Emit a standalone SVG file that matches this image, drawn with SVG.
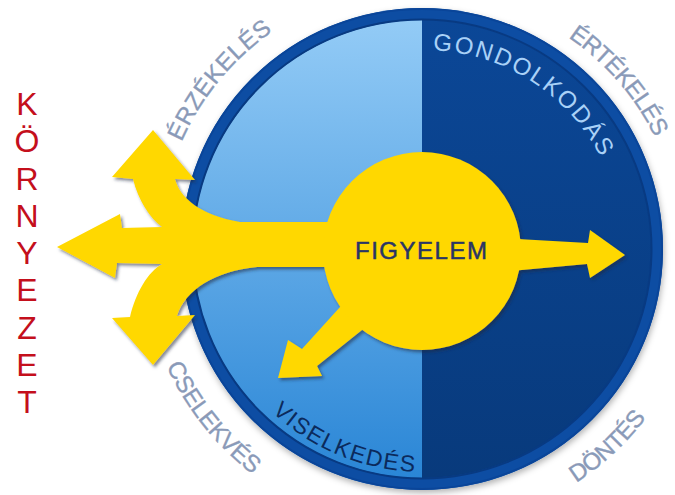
<svg xmlns="http://www.w3.org/2000/svg" width="675" height="495" viewBox="0 0 675 495">
<defs>
<style>
.out{font-family:"Liberation Sans",Arial,sans-serif;font-size:24px;fill:#8a9ab8;stroke:#8a9ab8;stroke-width:0.35px;}
.in1{font-family:"Liberation Sans",Arial,sans-serif;font-size:24px;fill:#a9d1f7;}
.in2{font-family:"Liberation Sans",Arial,sans-serif;font-size:23px;fill:#0b2a5c;}
.env{font-family:"Liberation Sans",Arial,sans-serif;font-size:32px;fill:#c40f1c;text-anchor:middle;}
.yel{fill:#ffd800;}
</style>
<linearGradient id="gl" x1="0" y1="0" x2="0" y2="1">
<stop offset="0" stop-color="#93cbf6"/>
<stop offset="1" stop-color="#2a86d6"/>
</linearGradient>
<linearGradient id="gr" x1="0" y1="0" x2="0" y2="1">
<stop offset="0" stop-color="#0b4797"/>
<stop offset="1" stop-color="#083a7c"/>
</linearGradient>
<filter id="sh" x="-10%" y="-10%" width="120%" height="120%">
<feDropShadow dx="2" dy="2.5" stdDeviation="1.5" flood-color="#1a2a40" flood-opacity="0.55"/>
</filter>
<filter id="csh" x="-10%" y="-10%" width="120%" height="120%">
<feDropShadow dx="1" dy="3" stdDeviation="3" flood-color="#000" flood-opacity="0.3"/>
</filter>
<path id="p1" d="M160.2,274.4 A265,265 0 0 1 398.6,-14.8"/>
<path id="p2" d="M442.7,-6.3 A257,257 0 0 1 680.3,267.7"/>
<path id="p3" d="M142.8,217.5 A283,283 0 0 0 392.5,530.2"/>
<path id="p4" d="M413.8,527.8 A279,279 0 0 0 702.8,259.2"/>
<path id="p5" d="M380.9,54.7 A199,199 0 0 1 618.3,205.9"/>
<path id="p6" d="M217.6,333.4 A223,223 0 0 0 508.4,455.4"/>
</defs>
<rect width="675" height="495" fill="#ffffff"/>

<g id="wheel">
<circle cx="422" cy="249" r="241" fill="#0b4ea3" filter="url(#csh)"/>
<path d="M422,20 A229,229 0 0 0 422,478 Z" fill="url(#gl)"/>
<path d="M422,20 A229,229 0 0 1 422,478 Z" fill="url(#gr)"/>
<circle cx="422" cy="249" r="229.5" fill="none" stroke="#083a82" stroke-width="2"/>
<circle cx="422" cy="249" r="240" fill="none" stroke="#0a4599" stroke-width="2"/>
</g>

<g id="inner-labels">
<text class="in1"><textPath href="#p5" startOffset="50%" text-anchor="middle" textLength="208" lengthAdjust="spacing">GONDOLKODÁS</textPath></text>
<text class="in2"><textPath href="#p6" startOffset="50%" text-anchor="middle" textLength="158" lengthAdjust="spacing">VISELKEDÉS</textPath></text>
</g>

<g id="outer-labels">
<text class="out"><textPath href="#p1" startOffset="50%" text-anchor="middle" textLength="145" lengthAdjust="spacing">ÉRZÉKELÉS</textPath></text>
<text class="out"><textPath href="#p2" startOffset="50%" text-anchor="middle" textLength="134" lengthAdjust="spacing">ÉRTÉKELÉS</textPath></text>
<text class="out"><textPath href="#p3" startOffset="50%" text-anchor="middle" textLength="140" lengthAdjust="spacing">CSELEKVÉS</textPath></text>
<text class="out"><textPath href="#p4" startOffset="50%" text-anchor="middle" textLength="96" lengthAdjust="spacing">DÖNTÉS</textPath></text>
</g>

<g id="connectors" filter="url(#sh)">
<path class="yel" d="M57,247 L120,214 L122,228 L162,227 C150,218 138,200 133,179 L112,177 L153,130 L195,180 L175,179 C180,198 200,215 240,222 L340,222 L340,267 L257,267 C215,271 185,290 177,316 L195,315 L153,365 L112,318 L130,317 C136,292 148,272 162,264 L117,263 L115,278 Z"/>
<path class="yel" d="M500,238 L588,243 L590,230 L625,255 L590,278 L587,264 L500,272 Z"/>
<path class="yel" d="M350,296 L302,349 L288,340 L278,378 L322,376 L317,366 L372,322 Z"/>
<circle class="yel" cx="422" cy="251" r="99"/>
</g>

<g id="figyelem">
<text x="421" y="259" font-family="'Liberation Sans',Arial,sans-serif" font-size="24" fill="#2a3566" stroke="#2a3566" stroke-width="0.5" text-anchor="middle" textLength="132" lengthAdjust="spacing">FIGYELEM</text>
</g>

<g id="kornyezet">
<text class="env" x="27" y="115">K</text>
<text class="env" x="27" y="152">Ö</text>
<text class="env" x="27" y="190">R</text>
<text class="env" x="27" y="227">N</text>
<text class="env" x="27" y="264">Y</text>
<text class="env" x="27" y="301">E</text>
<text class="env" x="27" y="339">Z</text>
<text class="env" x="27" y="376">E</text>
<text class="env" x="27" y="413">T</text>
</g>
</svg>
